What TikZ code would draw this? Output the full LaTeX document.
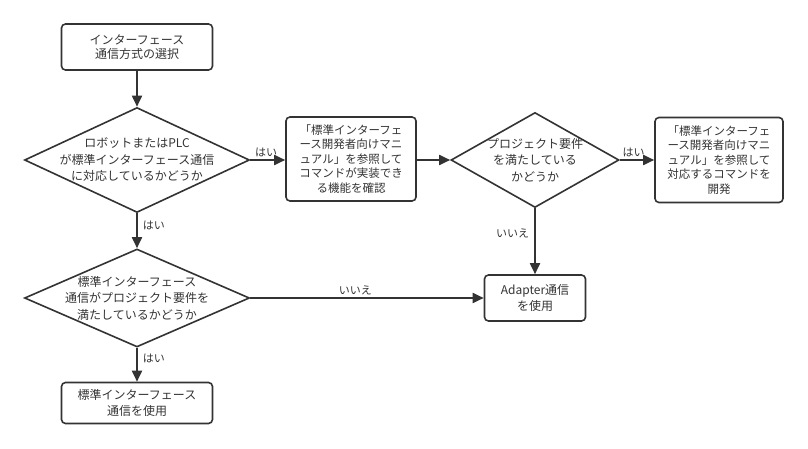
\documentclass[tikz,border=0pt]{standalone}
\usepackage{fontspec}
\setmainfont{Noto Sans CJK JP}
\usetikzlibrary{shapes.geometric,arrows.meta}

\begin{document}
\begin{tikzpicture}[x=1pt,y=-1pt]
        \definecolor{darkgray}{RGB}{51,51,51}
        \tikzset{
            box/.style={draw=darkgray, line width=1.6pt, rounded corners=4pt, align=center,
                inner sep=0pt, text=darkgray, font=\fontsize{12}{16}\selectfont},
            choice/.style={diamond, draw=darkgray, line width=1.6pt, align=center,
                inner xsep=-20pt, inner ysep=0pt, text=darkgray, font=\fontsize{12}{16.5}\selectfont},
            flow/.style={draw=darkgray, line width=1.8pt, -{Triangle[length=11pt,width=10pt]}},
            lbl/.style={text=darkgray, font=\fontsize{11}{12}\selectfont, inner sep=2pt}
        }
        \useasboundingbox (0,0) rectangle (808,449);

        % Nodes
        \node[box, minimum width=151pt, minimum height=46pt, font=\fontsize{12}{14}\selectfont] (start) at (137,47)
            {インターフェース\\通信方式の選択};
        \node[choice, aspect=2.14, minimum width=225pt, minimum height=105pt] (support) at (137,160)
            {ロボットまたはPLC\\が標準インターフェース通信\\に対応しているかどうか};
        \node[box, minimum width=130pt, minimum height=84pt, font=\fontsize{11.5}{14.5}\selectfont] (check) at (351,159)
            {「標準インターフェ\\ース開発者向けマニ\\ュアル」を参照して\\コマンドが実装でき\\る機能を確認};
        \node[choice, aspect=1.76, minimum width=168pt, minimum height=95pt] (meets) at (535,160)
            {プロジェクト要件\\を満たしている\\かどうか};
        \node[box, minimum width=128pt, minimum height=85pt, font=\fontsize{11.5}{14.5}\selectfont] (develop) at (719,160)
            {「標準インターフェ\\ース開発者向けマニ\\ュアル」を参照して\\対応するコマンドを\\開発};
        \node[choice, aspect=2.3, minimum width=225pt, minimum height=98pt] (stdok) at (137,298)
            {標準インターフェース\\通信がプロジェクト要件を\\満たしているかどうか};
        \node[box, minimum width=151pt, minimum height=41pt] (usestd) at (137,403)
            {標準インターフェース\\通信を使用};
        \node[box, minimum width=101pt, minimum height=46pt] (adapter) at (535,298)
            {Adapter通信\\を使用};

        % Drawing
        \draw[flow] (start) -- (support);
        \draw[flow] (support.east) -- (support.east -| check.west)
            node[lbl, pos=0.45, above] {はい};
        \draw[flow] (check.east |- meets.west) -- (meets.west);
        \draw[flow] (meets.east) -- (develop.west)
            node[lbl, pos=0.4, above] {はい};
        \draw[flow] (support.south) -- (stdok.north)
            node[lbl, pos=0.35, right=3pt] {はい};
        \draw[flow] (stdok.south) -- (usestd.north)
            node[lbl, pos=0.3, right=3pt] {はい};
        \draw[flow] (stdok.east) -- (adapter.west)
            node[lbl, pos=0.45, above] {いいえ};
        \draw[flow] (meets.south) -- (adapter.north)
            node[lbl, pos=0.38, left=3pt] {いいえ};
    \end{tikzpicture}
\end{document}
